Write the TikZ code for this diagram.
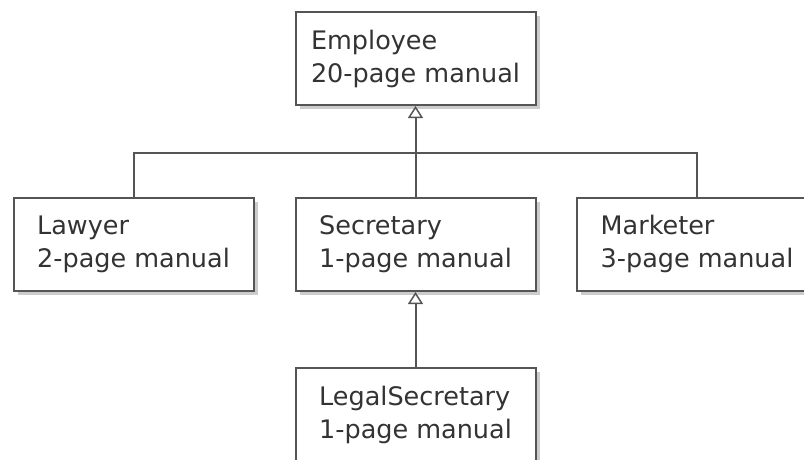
\documentclass[tikz,border=0pt]{standalone}
\usepackage{fontspec}
\setmainfont{DejaVu Sans}
\usetikzlibrary{arrows.meta,shadows}
\definecolor{linegray}{HTML}{555555}
\definecolor{textgray}{HTML}{333333}
\tikzset{class/.style = {draw = linegray, line width = 2pt, fill = white, text = textgray, align = left, inner sep = 0, minimum width = 240pt, minimum height = 93pt, font = \fontsize{25.5}{33}\selectfont, drop shadow = {shadow xshift = 4pt, shadow yshift = -4pt, fill = black!20, opacity = 1}}}
\tikzset{link/.style = {draw = linegray, line width = 2pt}}
\tikzset{inherit/.style = {link, -{Triangle[open, width = 15pt, length = 12pt, line width = 1.5pt]}}}

\begin{document}
\begin{tikzpicture}[x = 1pt, y = -1pt]
    \useasboundingbox (0,0) rectangle (804,459);
    \fill [white] (0,0) rectangle (804,459);
    \clip (0,0) rectangle (804,459);
    \node [class] (employee) at (415.5,58.5) {Employee\\20-page manual};
    \node [class] (lawyer) at (133.5,244) {Lawyer\\2-page manual};
    \node [class] (secretary) at (415.5,244.5) {Secretary\\1-page manual};
    \node [class] (marketer) at (697,244) {Marketer\\3-page manual};
    \node [class] (legal) at (415.5,414.5) {LegalSecretary\\1-page manual};
    \coordinate (bar) at (415.5,153);
    \draw [inherit] (secretary.north) -- (employee.south);
    \draw [link] (lawyer.north) |- (bar) -| (marketer.north);
    \draw [inherit] (legal.north) -- (secretary.south);
\end{tikzpicture}
\end{document}
